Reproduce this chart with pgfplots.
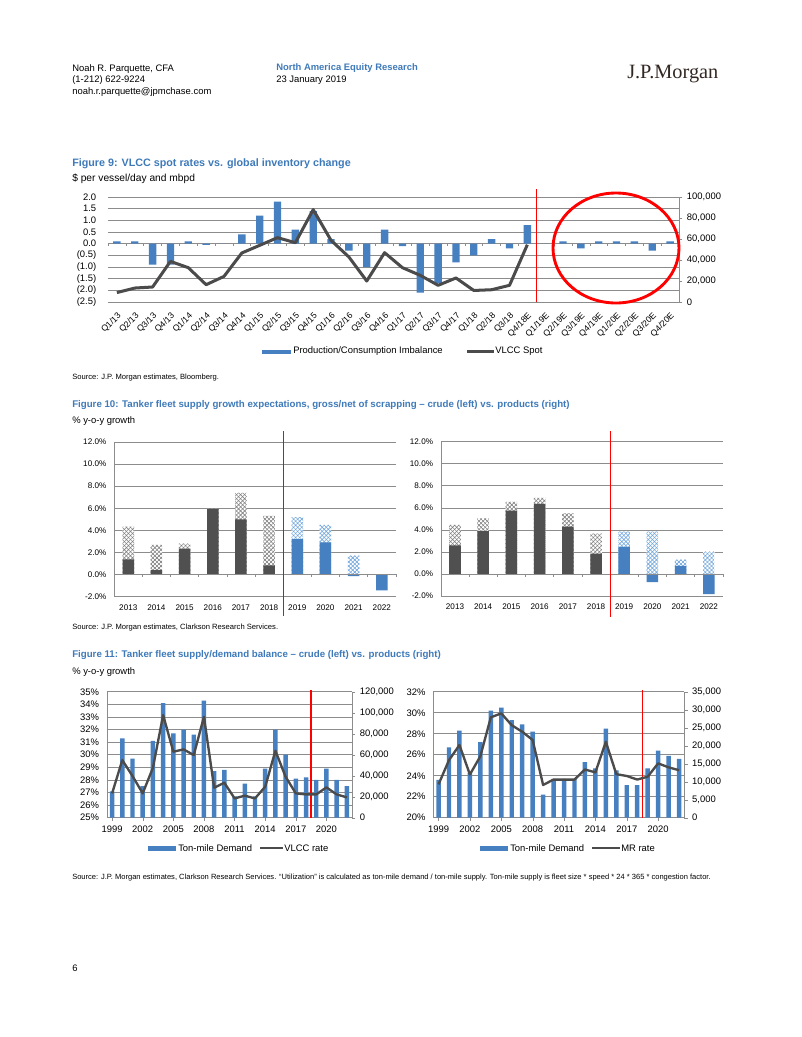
\documentclass[border=0pt]{standalone}
\usepackage{fontspec}
\setmainfont{Liberation Sans}
\newfontfamily\logofont{Liberation Serif}
\usepackage{pgfplots}
\pgfplotsset{compat=1.18}
\usetikzlibrary{patterns.meta}

\definecolor{ttl}{RGB}{62,122,186}
\definecolor{barblue}{RGB}{70,128,193}
\definecolor{dkbar}{RGB}{80,80,80}
\definecolor{dkline}{RGB}{75,75,75}
\definecolor{grd}{RGB}{140,140,140}
\definecolor{hblue}{RGB}{110,165,220}
\definecolor{logo}{RGB}{50,40,35}

\newcommand{\fs}[1]{\fontsize{#1}{#1}\selectfont}

\pgfplotsset{
  page axis/.style={
    scale only axis, clip=false, anchor=south west,
    axis line style={grd}, tick style={grd},
    ymajorgrids, major grid style={grd, line width=0.5pt},
    tick align=outside, major tick length=2.5pt,
    /pgf/number format/assume math mode=true,
  },
  right nums/.style={scaled y ticks=false,
    yticklabel style={font=\fs{7.2}, /pgf/number format/fixed, /pgf/number format/1000 sep={,}}},
  gross/.style={ybar, bar width=8.8pt, bar shift=0pt, draw=none, fill=white,
    postaction={pattern={Lines[angle=45,distance=2.2pt,line width=0.45pt]}, pattern color=#1},
    postaction={pattern={Lines[angle=-45,distance=2.2pt,line width=0.45pt]}, pattern color=#1}},
  net/.style={ybar, bar width=8.8pt, bar shift=0pt, draw=none, fill=#1},
}

\begin{document}
\begin{tikzpicture}[x=0.763pt, y=-0.763pt]
\fill[white] (0,0) rectangle (802,1037);

% header
\node[anchor=base west, inner sep=0, font=\fs{7.2}] at (72,71) {Noah R. Parquette, CFA};
\node[anchor=base west, inner sep=0, font=\fs{7.2}] at (72,82.5) {(1-212) 622-9224};
\node[anchor=base west, inner sep=0, font=\fs{7.2}] at (72,94) {noah.r.parquette@jpmchase.com};
\node[anchor=base west, inner sep=0, font=\fs{7.2}\bfseries, text=ttl] at (276,70.5) {North America Equity Research};
\node[anchor=base west, inner sep=0, font=\fs{7.2}] at (276,82) {23 January 2019};
\node[anchor=base west, inner sep=0, font=\logofont\fs{15.5}, text=logo] at (627,78.5) {J.P.Morgan};

% ---------- Figure 9
\node[anchor=base west, inner sep=0, font=\fs{8.2}\bfseries, text=ttl] at (72,166.5) {Figure 9: VLCC spot rates vs. global inventory change};
\node[anchor=base west, inner sep=0, font=\fs{7.8}] at (72,181.5) {\$ per vessel/day and mbpd};

\begin{axis}[page axis, at={(82.40pt,-230.43pt)}, width=435.7pt, height=80.1pt,
  xmin=-0.5, xmax=31.5, ymin=-2.5, ymax=2,
  axis line style={draw=none}, ytick style={draw=none}, xtick style={draw=none},
  ytick={-2.5,-2,-1.5,-1,-0.5,0,0.5,1,1.5,2},
  yticklabels={(2.5),(2.0),(1.5),(1.0),(0.5),0.0,0.5,1.0,1.5,2.0},
  yticklabel style={xshift=-3pt},
  xtick={0,...,31},
  xticklabels={Q1/13,Q2/13,Q3/13,Q4/13,Q1/14,Q2/14,Q3/14,Q4/14,Q1/15,Q2/15,Q3/15,Q4/15,Q1/16,Q2/16,Q3/16,Q4/16,Q1/17,Q2/17,Q3/17,Q4/17,Q1/18,Q2/18,Q3/18,Q4/18E,Q1/19E,Q2/19E,Q3/19E,Q4/19E,Q1/20E,Q2/20E,Q3/20E,Q4/20E},
  xticklabel style={rotate=45, anchor=north east, font=\fs{6.6}},
  yticklabel style={font=\fs{7.2}}]
\addplot[ybar, bar width=5.6pt, bar shift=0pt, draw=none, fill=barblue] coordinates {
 (0,0.1) (1,0.1) (2,-0.9) (3,-0.9) (4,0.1) (5,-0.05) (6,0) (7,0.4) (8,1.2) (9,1.8)
 (10,0.6) (11,1.4) (12,0.2) (13,-0.3) (14,-1.0) (15,0.6) (16,-0.1) (17,-2.1) (18,-1.7)
 (19,-0.8) (20,-0.5) (21,0.2) (22,-0.2) (23,0.8) (24,0) (25,0.1) (26,-0.2) (27,0.1)
 (28,0.1) (29,0.1) (30,-0.3) (31,0.1)};
\pgfplotsinvokeforeach{-0.5,0.5,...,31.5}{\draw[grd] (axis cs:#1,0) -- ++(0pt,-2pt);}
\draw[red, line width=0.8pt] (axis cs:23.5,-2.5) -- ([yshift=6pt]axis cs:23.5,2);
\end{axis}
\begin{axis}[page axis, at={(82.40pt,-230.43pt)}, width=435.7pt, height=80.1pt,
  xmin=-0.5, xmax=31.5, ymin=0, ymax=100000, ymajorgrids=false,
  axis x line=none, axis y line*=right, ytick={0,20000,...,100000}, right nums]
\addplot[dkline, line width=2.3pt, line join=round] coordinates {
 (0,9000) (1,13300) (2,14300) (3,38700) (4,32700) (5,16500) (6,24400) (7,46700)
 (8,54000) (9,61300) (10,56500) (11,88000) (12,58700) (13,42900) (14,20000) (15,47000)
 (16,32700) (17,25400) (18,15900) (19,22900) (20,11000) (21,11700) (22,15900) (23,54600)};
\end{axis}
\draw[red, line width=2.2pt] (616,248) ellipse [x radius=63, y radius=55];
\fill[barblue] (262,349.5) rectangle (291,353.5);
\node[anchor=west, inner sep=0, font=\fs{7.2}] at (293,351.5) {Production/Consumption Imbalance};
\draw[dkline, line width=2.3pt] (467,351.5) -- (494,351.5);
\node[anchor=west, inner sep=0, font=\fs{7.2}] at (495,351.5) {VLCC Spot};
\node[anchor=base west, inner sep=0, font=\fs{5.8}] at (72,379.5) {Source: J.P. Morgan estimates, Bloomberg.};

% ---------- Figure 10
\node[anchor=base west, inner sep=0, font=\fs{7.4}\bfseries, text=ttl] at (72,407.5) {Figure 10: Tanker fleet supply growth expectations, gross/net of scrapping -- crude (left) vs. products (right)};
\node[anchor=base west, inner sep=0, font=\fs{7.2}] at (72,423.5) {\% y-o-y growth};

\begin{axis}[page axis, at={(87.13pt,-455.13pt)}, width=214.9pt, height=117.9pt,
  xmin=-0.5, xmax=9.5, ymin=-2, ymax=12, ytick={-2,0,...,12},
  axis lines*=left, x axis line style={draw=none}, xtick style={draw=none},
  ytick style={draw=none},
  xtick={0,...,9}, xticklabels={2013,2014,2015,2016,2017,2018,2019,2020,2021,2022},
  yticklabel={\pgfmathprintnumber[fixed,fixed zerofill,precision=1]{\tick}\%},
  tick label style={font=\fs{6.2}}]
\addplot[gross=gray] coordinates {(0,4.33) (1,2.67) (2,2.8) (3,5.97) (4,7.39) (5,5.3)};
\addplot[gross=hblue] coordinates {(6,5.2) (7,4.5) (8,1.7)};
\addplot[net=dkbar] coordinates {(0,1.36) (1,0.39) (2,2.33) (3,5.97) (4,5.0) (5,0.82)};
\addplot[net=barblue] coordinates {(6,3.2) (7,2.9) (8,-0.15) (9,-1.45)};
\draw[grd] (axis cs:-0.5,0) -- (axis cs:9.5,0);
\pgfplotsinvokeforeach{-0.5,0.5,...,9.5}{\draw[grd] (axis cs:#1,0) -- ++(0pt,-2pt);}
\draw[red, line width=0.8pt] ([yshift=-14.5pt]axis cs:5.5,-2) -- ([yshift=8.4pt]axis cs:5.5,12);
\end{axis}

\begin{axis}[page axis, at={(336.41pt,-454.75pt)}, width=215.2pt, height=117.7pt,
  xmin=-0.5, xmax=9.5, ymin=-2, ymax=12, ytick={-2,0,...,12},
  axis lines*=left, x axis line style={draw=none}, xtick style={draw=none},
  ytick style={draw=none},
  xtick={0,...,9}, xticklabels={2013,2014,2015,2016,2017,2018,2019,2020,2021,2022},
  yticklabel={\pgfmathprintnumber[fixed,fixed zerofill,precision=1]{\tick}\%},
  tick label style={font=\fs{6.2}}]
\addplot[gross=gray] coordinates {(0,4.45) (1,5.05) (2,6.55) (3,6.9) (4,5.5) (5,3.67)};
\addplot[gross=hblue] coordinates {(6,3.85) (7,3.85) (8,1.3) (9,2.03)};
\addplot[net=dkbar] coordinates {(0,2.6) (1,3.9) (2,5.75) (3,6.36) (4,4.3) (5,1.85)};
\addplot[net=barblue] coordinates {(6,2.45) (7,-0.73) (8,0.73) (9,-1.82)};
\draw[grd] (axis cs:-0.5,0) -- (axis cs:9.5,0);
\pgfplotsinvokeforeach{-0.5,0.5,...,9.5}{\draw[grd] (axis cs:#1,0) -- ++(0pt,-2pt);}
\draw[red, line width=0.8pt] ([yshift=-16pt]axis cs:5.5,-2) -- ([yshift=8.4pt]axis cs:5.5,12);
\end{axis}
\node[anchor=base west, inner sep=0, font=\fs{5.8}] at (72,629.5) {Source: J.P. Morgan estimates, Clarkson Research Services.};

% ---------- Figure 11
\node[anchor=base west, inner sep=0, font=\fs{7.4}\bfseries, text=ttl] at (72,657.5) {Figure 11: Tanker fleet supply/demand balance -- crude (left) vs. products (right)};
\node[anchor=base west, inner sep=0, font=\fs{7.2}] at (72,674) {\% y-o-y growth};

\begin{axis}[page axis, at={(81.64pt,-623.91pt)}, width=186.9pt, height=96.1pt,
  xmin=1998.5, xmax=2022.5, ymin=25, ymax=35, ytick={25,...,35},
  axis lines*=left, xtick={1999,2002,...,2020}, ytick style={draw=none},
  xticklabel style={/pgf/number format/1000 sep=},
  yticklabel={\pgfmathprintnumber{\tick}\%},
  tick label style={font=\fs{7.2}}]
\addplot[ybar, bar width=3.4pt, bar shift=0pt, draw=none, fill=barblue] coordinates {
 (1999,27.1) (2000,31.3) (2001,29.7) (2002,27.5) (2003,31.1) (2004,34.1) (2005,31.7)
 (2006,32.0) (2007,31.6) (2008,34.3) (2009,28.7) (2010,28.8) (2011,26.7) (2012,27.7)
 (2013,26.7) (2014,28.9) (2015,32.0) (2016,30.0) (2017,28.1) (2018,28.2) (2019,28.0)
 (2020,28.9) (2021,28.0) (2022,27.5)};
\draw[red, line width=1.4pt] (axis cs:2018.5,25) -- ([yshift=1.5pt]axis cs:2018.5,35);
\end{axis}
\begin{axis}[page axis, at={(81.64pt,-623.91pt)}, width=186.9pt, height=96.1pt,
  xmin=1998.5, xmax=2022.5, ymin=0, ymax=120000, ymajorgrids=false,
  axis x line=none, axis y line*=right, ytick={0,20000,...,120000}, right nums]
\addplot[dkline, line width=1.8pt, line join=round] coordinates {
 (1999,23200) (2000,54900) (2001,39700) (2002,23200) (2003,47600) (2004,97800)
 (2005,62900) (2006,65100) (2007,59700) (2008,96200) (2009,28600) (2010,33300)
 (2011,18400) (2012,21000) (2013,18400) (2014,29500) (2015,63800) (2016,39000)
 (2017,23200) (2018,22200) (2019,22200) (2020,28900) (2021,22200) (2022,19400)};
\end{axis}
\fill[barblue] (148,846) rectangle (176,850.5);
\node[anchor=west, inner sep=0, font=\fs{7.2}] at (178,848) {Ton-mile Demand};
\draw[dkline, line width=1.8pt] (260,848) -- (283,848);
\node[anchor=west, inner sep=0, font=\fs{7.2}] at (284,848) {VLCC rate};

\begin{axis}[page axis, at={(330.61pt,-623.91pt)}, width=191.5pt, height=96.1pt,
  xmin=1998.5, xmax=2022.5, ymin=20, ymax=32, ytick={20,22,...,32},
  axis lines*=left, xtick={1999,2002,...,2020}, ytick style={draw=none},
  xticklabel style={/pgf/number format/1000 sep=},
  yticklabel={\pgfmathprintnumber{\tick}\%},
  tick label style={font=\fs{7.2}}]
\addplot[ybar, bar width=3.4pt, bar shift=0pt, draw=none, fill=barblue] coordinates {
 (1999,23.6) (2000,26.7) (2001,28.3) (2002,24.3) (2003,27.2) (2004,30.2) (2005,30.5)
 (2006,29.3) (2007,28.9) (2008,28.2) (2009,22.2) (2010,23.7) (2011,23.7) (2012,23.7)
 (2013,25.3) (2014,24.7) (2015,28.5) (2016,24.5) (2017,23.1) (2018,23.1) (2019,24.7)
 (2020,26.4) (2021,25.9) (2022,25.6)};
\draw[red, line width=1.4pt] (axis cs:2018.5,20) -- ([yshift=1.5pt]axis cs:2018.5,32);
\end{axis}
\begin{axis}[page axis, at={(330.61pt,-623.91pt)}, width=191.5pt, height=96.1pt,
  xmin=1998.5, xmax=2022.5, ymin=0, ymax=35000, ymajorgrids=false,
  axis x line=none, axis y line*=right, ytick={0,5000,...,35000}, right nums]
\addplot[dkline, line width=1.8pt, line join=round] coordinates {
 (1999,9260) (2000,16000) (2001,20200) (2002,12000) (2003,17100) (2004,27900)
 (2005,29000) (2006,25700) (2007,23900) (2008,21600) (2009,9100) (2010,10600)
 (2011,10600) (2012,10600) (2013,13400) (2014,12600) (2015,21100) (2016,12100)
 (2017,11600) (2018,10600) (2019,11400) (2020,15100) (2021,14000) (2022,13200)};
\end{axis}
\fill[barblue] (480,846) rectangle (508,850.5);
\node[anchor=west, inner sep=0, font=\fs{7.2}] at (510,848) {Ton-mile Demand};
\draw[dkline, line width=1.8pt] (592,848) -- (620,848);
\node[anchor=west, inner sep=0, font=\fs{7.2}] at (621,848) {MR rate};

\node[anchor=base west, inner sep=0, font=\fs{5.75}] at (72,879.5) {Source: J.P. Morgan estimates, Clarkson Research Services. ``Utilization'' is calculated as ton-mile demand / ton-mile supply. Ton-mile supply is fleet size * speed * 24 * 365 * congestion factor.};

\node[anchor=base west, inner sep=0, font=\fs{7.2}] at (72,971) {6};
\end{tikzpicture}
\end{document}
